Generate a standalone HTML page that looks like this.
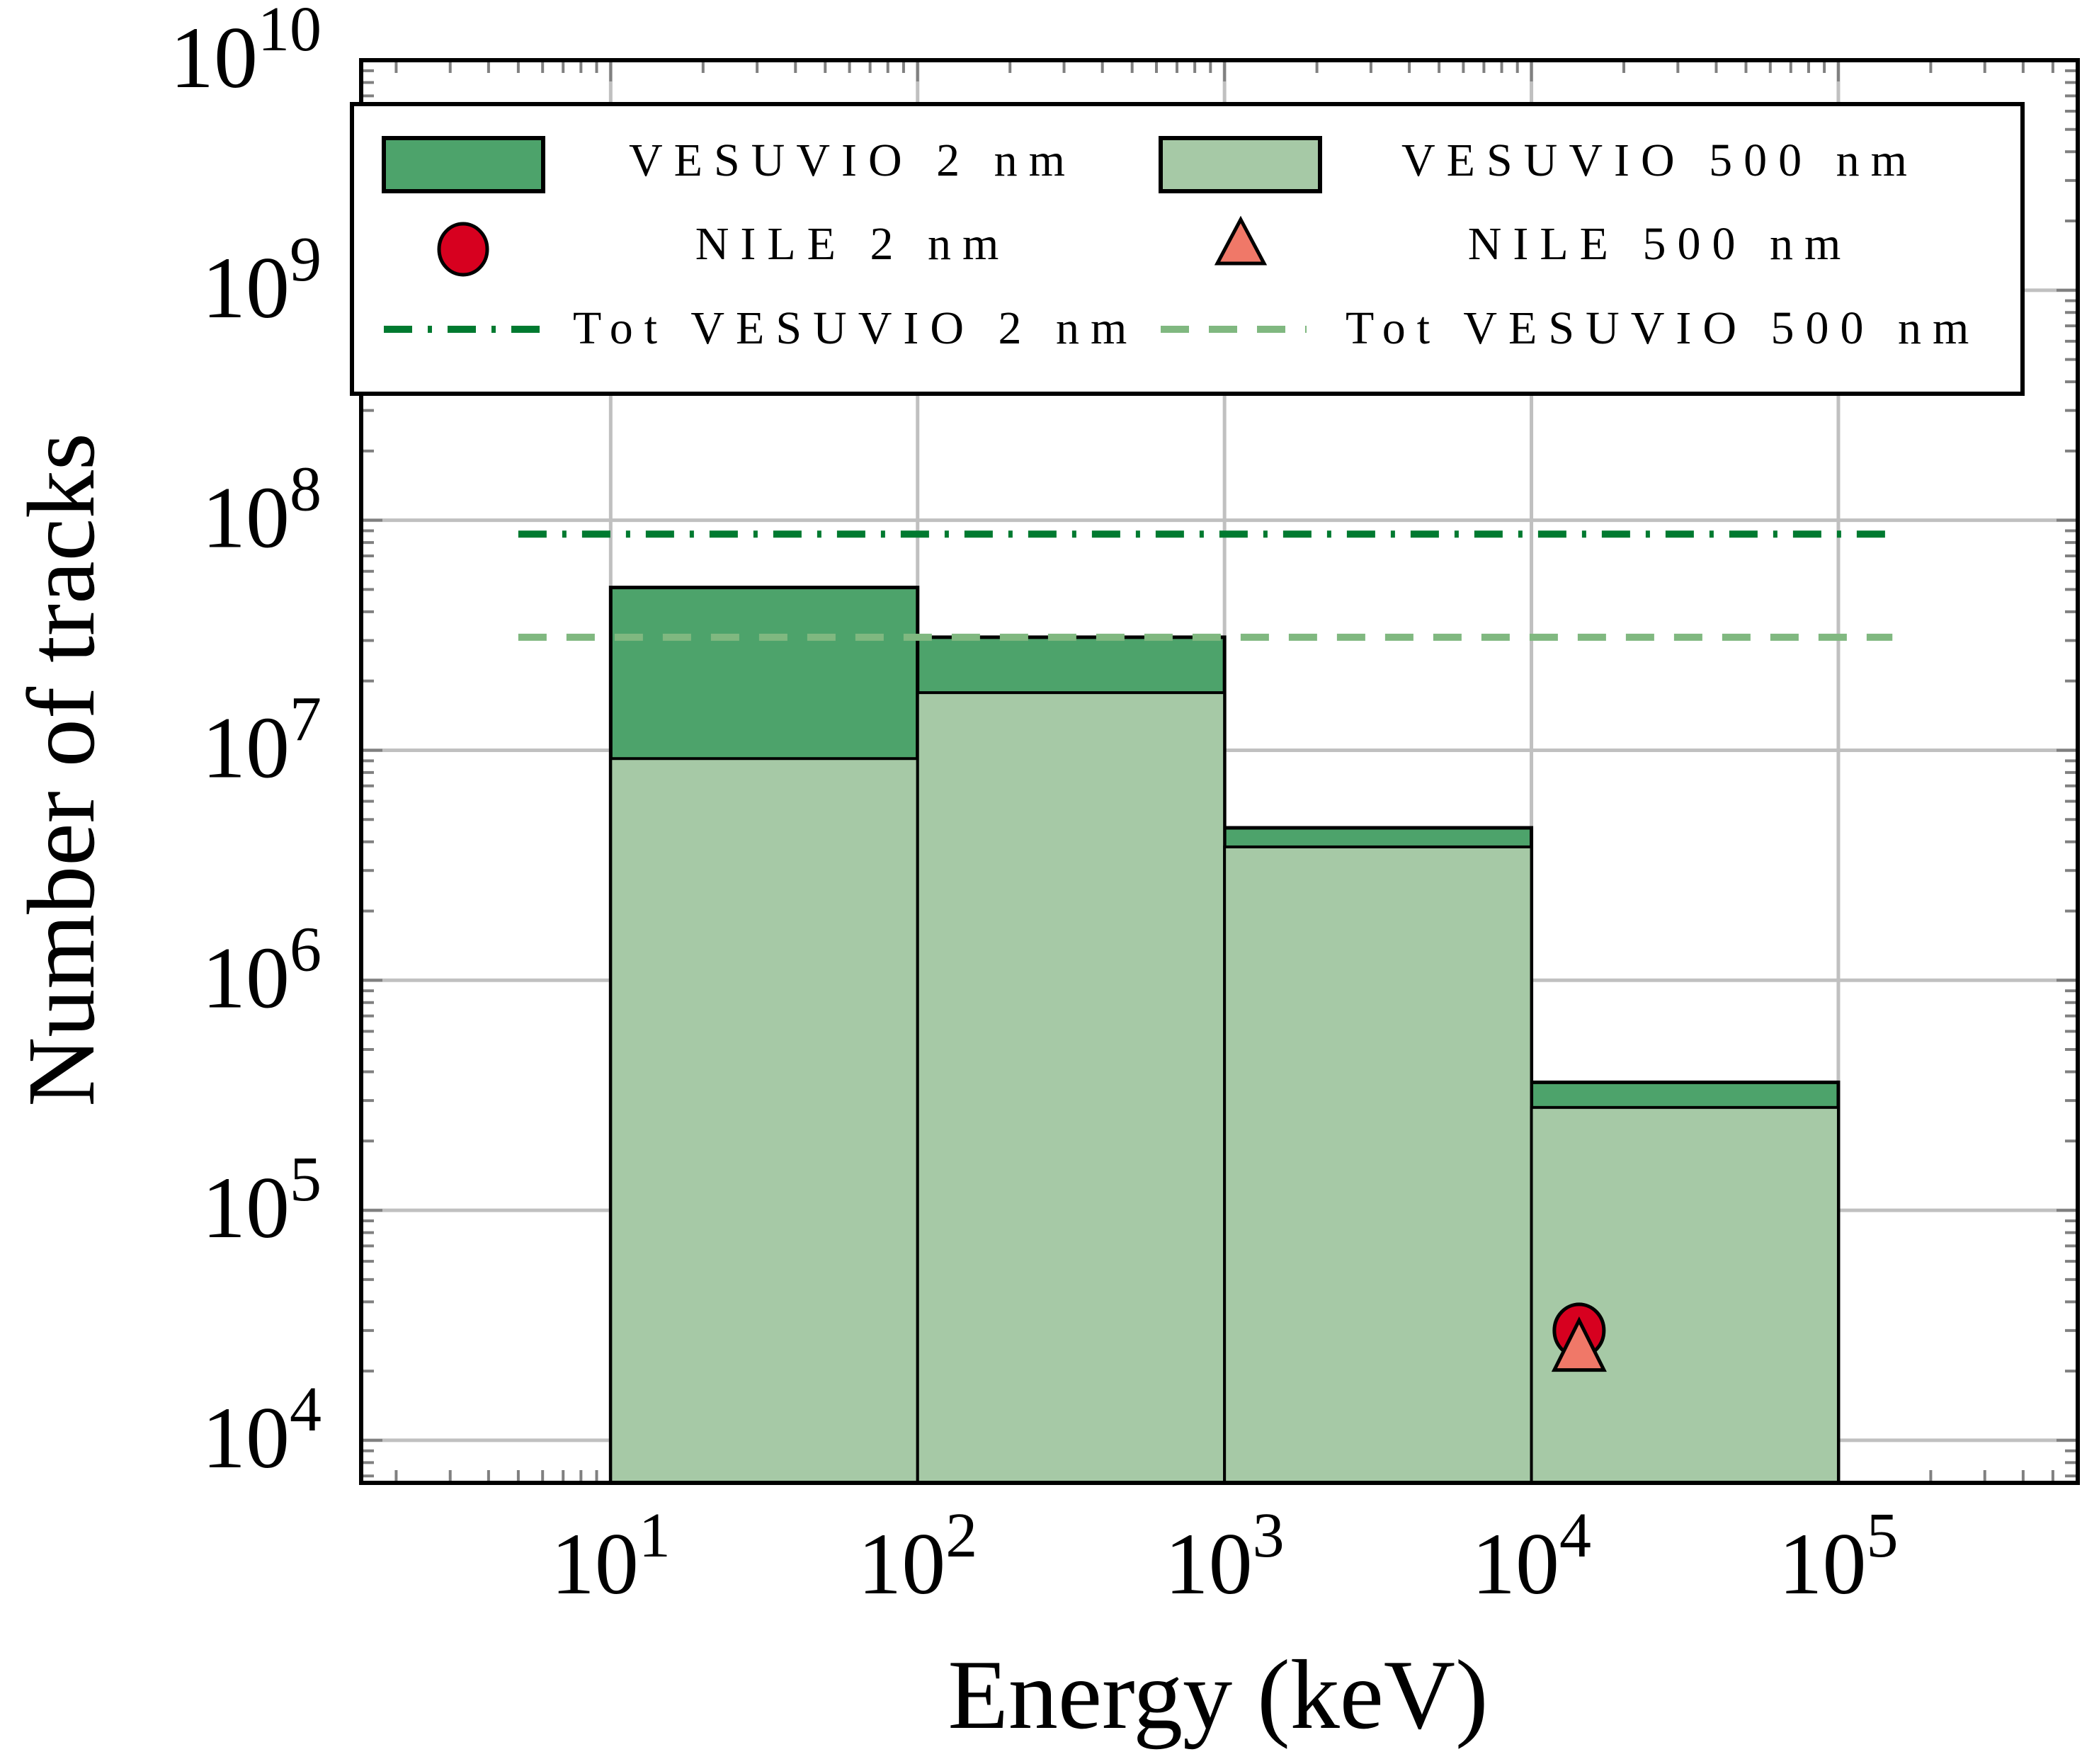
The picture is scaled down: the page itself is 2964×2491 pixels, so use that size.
<!DOCTYPE html>
<html><head><meta charset="utf-8">
<style>
html,body{margin:0;padding:0;background:#fff;}
svg{display:block;}
text{font-family:"Liberation Serif",serif;fill:#000;}
</style></head>
<body>
<svg id="chart" width="2964" height="2491" viewBox="0 0 2964 2491" xmlns="http://www.w3.org/2000/svg">
<g id="grid"></g>
<g id="ticks"></g>
<g id="bars"></g>
<g id="lines"></g>
<g id="points"></g>
<rect x="510" y="85" width="2424" height="2009" fill="none" stroke="#000" stroke-width="6"/>
<g id="labels"></g>
<text x="1720" y="2440" font-size="140" text-anchor="middle">Energy (keV)</text>
<text transform="translate(132,1087) rotate(-90)" font-size="136" text-anchor="middle">Number of tracks</text>
<g>
<rect x="497" y="147" width="2359" height="409" fill="#fff" stroke="#000" stroke-width="6"/>
<rect x="542" y="195" width="225" height="75" fill="#4da36b" stroke="#000" stroke-width="6"/>
<text x="1204" y="248" font-size="66" letter-spacing="16" text-anchor="middle">VESUVIO 2 nm</text>
<rect x="1639" y="195" width="225" height="75" fill="#a6c9a6" stroke="#000" stroke-width="6"/>
<text x="2344" y="248" font-size="66" letter-spacing="16" text-anchor="middle">VESUVIO 500 nm</text>
<ellipse cx="654" cy="352" rx="34" ry="36" fill="#d7001f" stroke="#000" stroke-width="5"/>
<text x="1204" y="366" font-size="66" letter-spacing="16" text-anchor="middle">NILE 2 nm</text>
<polygon points="1752,310 1785,372 1719,372" fill="#f07868" stroke="#000" stroke-width="5"/>
<text x="2344" y="366" font-size="66" letter-spacing="16" text-anchor="middle">NILE 500 nm</text>
<line x1="542" y1="465" x2="767" y2="465" stroke="#007a30" stroke-width="10" stroke-dasharray="40,22,6,22"/>
<text x="809" y="485" font-size="66" letter-spacing="16">Tot VESUVIO 2 nm</text>
<line x1="1639" y1="465" x2="1845" y2="465" stroke="#80b880" stroke-width="10" stroke-dasharray="40,28"/>
<text x="1900" y="485" font-size="66" letter-spacing="16">Tot VESUVIO 500 nm</text>
</g>
</svg>
<script>
const binEdges = [10, 100, 1000, 10000, 100000];
const vesuvio2nm = [5.1e7, 3.1e7, 4.6e6, 3.6e5];
const vesuvio500nm = [9.2e6, 1.78e7, 3.8e6, 2.8e5];
const totVesuvio2nm = 8.7e7;
const totVesuvio500nm = 3.1e7;
const totRange = [5, 1.5e5];
const nileX = [1.43e4];
const nile2nm = [3.0e4];
const nile500nm = [2.5e4];
const xTickExps = [1, 2, 3, 4, 5];
const yTickExps = [4, 5, 6, 7, 8, 9, 10];

const NS = 'http://www.w3.org/2000/svg';
const X0 = 510, X1 = 2934, Y0 = 85, Y1 = 2094;
const xMinL = 0.187, xMaxL = 5.78, yMinL = 3.815, yMaxL = 10;
function xs(v){ return X0 + (Math.log10(v) - xMinL) / (xMaxL - xMinL) * (X1 - X0); }
function ys(v){ return Y1 - (Math.log10(v) - yMinL) / (yMaxL - yMinL) * (Y1 - Y0); }
function mk(tag, attrs, parent){
  const e = document.createElementNS(NS, tag);
  for (const k in attrs) e.setAttribute(k, attrs[k]);
  parent.appendChild(e);
  return e;
}
const grid = document.getElementById('grid');
const ticks = document.getElementById('ticks');
const bars = document.getElementById('bars');
const lines = document.getElementById('lines');
const points = document.getElementById('points');
const labels = document.getElementById('labels');

xTickExps.forEach(p => {
  const x = xs(Math.pow(10, p));
  const g = mk('line', {x1:x, x2:x, y1:Y0, y2:Y1, stroke:'#c0c0c0', 'stroke-width':5}, grid);
  
  
});
yTickExps.forEach(p => {
  const y = ys(Math.pow(10, p));
  const g = mk('line', {x1:X0, x2:X1, y1:y, y2:y, stroke:'#c0c0c0', 'stroke-width':5}, grid);
  
  
});
for (let p = 0; p <= 5; p++) {
  for (let m = 1; m <= 9; m++) {
    const v = m * Math.pow(10, p);
    const x = xs(v);
    if (x < X0 + 3 || x > X1 - 3) continue;
    const len = m === 1 ? 30 : 18;
    const t1 = mk('line', {x1:x, x2:x, y1:Y0, y2:Y0+len, stroke:'#808080', 'stroke-width':4}, ticks);
    
    
    const t2 = mk('line', {x1:x, x2:x, y1:Y1, y2:Y1-len, stroke:'#808080', 'stroke-width':4}, ticks);
    
    
  }
}
for (let p = 3; p <= 10; p++) {
  for (let m = 1; m <= 9; m++) {
    const v = m * Math.pow(10, p);
    const y = ys(v);
    if (y < Y0 + 3 || y > Y1 - 3) continue;
    const len = m === 1 ? 30 : 18;
    const t1 = mk('line', {x1:X0, x2:X0+len, y1:y, y2:y, stroke:'#808080', 'stroke-width':4}, ticks);
    
    
    const t2 = mk('line', {x1:X1, x2:X1-len, y1:y, y2:y, stroke:'#808080', 'stroke-width':4}, ticks);
    
    
  }
}
for (let i = 0; i < vesuvio2nm.length; i++) {
  const xa = xs(binEdges[i]), xb = xs(binEdges[i+1]);
  const r1 = mk('rect', {x:xa, y:ys(vesuvio2nm[i]), width:xb-xa, height:Y1-ys(vesuvio2nm[i]), fill:'#4da36b', stroke:'#000', 'stroke-width':5}, bars);
  
  
}
for (let i = 0; i < vesuvio500nm.length; i++) {
  const xa = xs(binEdges[i]), xb = xs(binEdges[i+1]);
  const r2 = mk('rect', {x:xa, y:ys(vesuvio500nm[i]), width:xb-xa, height:Y1-ys(vesuvio500nm[i]), fill:'#a6c9a6', stroke:'#000', 'stroke-width':4}, bars);
  
  
}
const l1 = mk('line', {x1:xs(totRange[0]), x2:xs(totRange[1]), y1:ys(totVesuvio2nm), y2:ys(totVesuvio2nm), stroke:'#007a30', 'stroke-width':10, 'stroke-dasharray':'40,22,6,22'}, lines);


const l2 = mk('line', {x1:xs(totRange[0]), x2:xs(totRange[1]), y1:ys(totVesuvio500nm), y2:ys(totVesuvio500nm), stroke:'#80b880', 'stroke-width':10, 'stroke-dasharray':'40,28'}, lines);


nileX.forEach((xv, i) => {
  const c = mk('ellipse', {cx:xs(xv), cy:ys(nile2nm[i]), rx:35, ry:37, fill:'#d7001f', stroke:'#000', 'stroke-width':5}, points);
  
  
  const cx = xs(xv), cy = ys(nile500nm[i]);
  const t = mk('polygon', {points:`${cx},${cy-40} ${cx+35},${cy+30} ${cx-35},${cy+30}`, fill:'#f07868', stroke:'#000', 'stroke-width':5}, points);
  
  
});
xTickExps.forEach(p => {
  const x = xs(Math.pow(10, p));
  const t = mk('text', {x:x, y:2250, 'font-size':124, 'text-anchor':'middle'}, labels);
  
  
  t.textContent = '10';
  const s = mk('tspan', {dy:-52, 'font-size':90}, t);
  s.textContent = String(p);
});
yTickExps.forEach(p => {
  const y = ys(Math.pow(10, p));
  const t = mk('text', {x:454, y:y+38, 'font-size':124, 'text-anchor':'end'}, labels);
  
  
  t.textContent = '10';
  const s = mk('tspan', {dy:-52, 'font-size':90}, t);
  s.textContent = String(p);
});
</script>
</body></html>
